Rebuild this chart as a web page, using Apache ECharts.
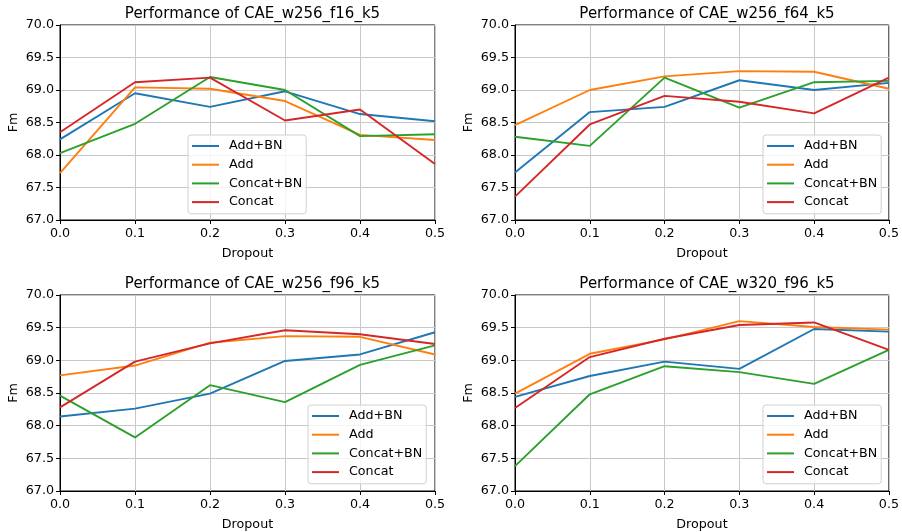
<!DOCTYPE html>
<html lang="en">
<head>
  <meta charset="UTF-8" />
  <title>Performance of CAE</title>
  <style>
    html, body { margin: 0; padding: 0; background: #fff; }
  </style>
</head>
<body>
  <div id="main" style="width: 902px; height: 532px;"></div>
  <script src="https://cdn.jsdelivr.net/npm/echarts@6/dist/echarts.min.js"></script>
  <script type="text/javascript">
    // x values (dropout rate)
    const dropout = [0, 0.1, 0.2, 0.3, 0.4, 0.5]
    const names = ['Add+BN', 'Add', 'Concat+BN', 'Concat']
    const titles = [
      'Performance of CAE_w256_f16_k5',
      'Performance of CAE_w256_f64_k5',
      'Performance of CAE_w256_f96_k5',
      'Performance of CAE_w320_f96_k5'
    ]

    // CAE_w256_f16_k5
    const f16AddBN = [68.24, 68.95, 68.74, 68.98, 68.63, 68.52]
    const f16Add = [67.72, 69.04, 69.02, 68.83, 68.31, 68.23]
    const f16ConcatBN = [68.03, 68.48, 69.20, 69.00, 68.29, 68.32]
    const f16Concat = [68.35, 69.12, 69.19, 68.53, 68.70, 67.86]

    // CAE_w256_f64_k5
    const f64AddBN = [67.73, 68.66, 68.74, 69.15, 69.00, 69.11]
    const f64Add = [68.46, 69.00, 69.21, 69.29, 69.28, 69.02]
    const f64ConcatBN = [68.28, 68.14, 69.19, 68.73, 69.12, 69.14]
    const f64Concat = [67.36, 68.47, 68.91, 68.82, 68.64, 69.19]

    // CAE_w256_f96_k5
    const f96AddBN = [68.14, 68.26, 68.49, 68.99, 69.09, 69.43]
    const f96Add = [68.77, 68.92, 69.27, 69.37, 69.36, 69.09]
    const f96ConcatBN = [68.46, 67.82, 68.62, 68.36, 68.93, 69.23]
    const f96Concat = [68.28, 68.98, 69.26, 69.46, 69.40, 69.25]

    // CAE_w320_f96_k5
    const w320AddBN = [68.44, 68.76, 68.98, 68.87, 69.48, 69.44]
    const w320Add = [68.49, 69.10, 69.32, 69.60, 69.51, 69.47]
    const w320ConcatBN = [67.38, 68.48, 68.91, 68.82, 68.64, 69.16]
    const w320Concat = [68.27, 69.05, 69.33, 69.54, 69.58, 69.16]

    const panels = [
      [f16AddBN, f16Add, f16ConcatBN, f16Concat],
      [f64AddBN, f64Add, f64ConcatBN, f64Concat],
      [f96AddBN, f96Add, f96ConcatBN, f96Concat],
      [w320AddBN, w320Add, w320ConcatBN, w320Concat]
    ]

    const colors = ['#1f77b4', '#ff7f0e', '#2ca02c', '#d62728']
    const font = 'DejaVu Sans'

    // plot areas [left, top, right, bottom] in px
    const boxes = [
      [60, 25, 435, 220],
      [515, 25, 889, 220],
      [60, 295, 435, 491],
      [515, 295, 889, 491]
    ]
    // legend box top-left corners
    const legendPos = [
      [188, 135],
      [763, 135],
      [308, 405],
      [763, 405]
    ]

    let myChart = echarts.init(document.getElementById('main'))

    let grid = [], xAxis = [], yAxis = [], title = [], legend = [], series = []

    boxes.forEach((b, i) => {
      grid.push({
        left: b[0], top: b[1], width: b[2] - b[0], height: b[3] - b[1],
        show: true, borderColor: '#000', borderWidth: 1
      })
      title.push({
        text: titles[i],
        left: (b[0] + b[2]) / 2,
        top: b[1] - 23,
        textAlign: 'center',
        textStyle: { fontFamily: font, fontSize: 15, fontWeight: 'normal', color: '#000' }
      })
      xAxis.push({
        gridIndex: i,
        type: 'value',
        min: 0, max: 0.5, interval: 0.1,
        name: 'Dropout',
        nameLocation: 'middle',
        nameGap: 27,
        nameTextStyle: { fontFamily: font, fontSize: 12.7, color: '#000' },
        axisLine: { show: true, lineStyle: { color: '#000', width: 1 } },
        axisTick: { show: true, inside: false, length: 4, lineStyle: { color: '#000' } },
        axisLabel: {
          margin: 7, fontFamily: font, fontSize: 12.7, color: '#000',
          formatter: v => v.toFixed(1)
        },
        splitLine: { show: true, lineStyle: { color: '#c8c8c8', width: 1 } }
      })
      yAxis.push({
        gridIndex: i,
        type: 'value',
        min: 67, max: 70, interval: 0.5,
        name: 'Fm',
        nameLocation: 'middle',
        nameGap: 40,
        nameTextStyle: { fontFamily: font, fontSize: 12.7, color: '#000' },
        axisLine: { show: true, lineStyle: { color: '#000', width: 1 } },
        axisTick: { show: true, inside: false, length: 4, lineStyle: { color: '#000' } },
        axisLabel: {
          margin: 6, fontFamily: font, fontSize: 12.7, color: '#000',
          formatter: v => v.toFixed(1)
        },
        splitLine: { show: true, lineStyle: { color: '#c8c8c8', width: 1 } }
      })
      legend.push({
        data: names,
        orient: 'vertical',
        left: legendPos[i][0],
        top: legendPos[i][1],
        icon: 'rect',
        itemWidth: 27,
        itemHeight: 2,
        itemGap: 4.7,
        padding: [4, 4, 4.7, 4],
        backgroundColor: 'rgba(255,255,255,0.8)',
        borderColor: '#d0d0d0',
        borderWidth: 1,
        borderRadius: 3,
        selectedMode: false,
        textStyle: {
          fontFamily: font, fontSize: 12.7, color: '#000',
          lineHeight: 14, padding: [0, 0, 0, 5]
        }
      })
      panels[i].forEach((vals, k) => {
        series.push({
          name: names[k],
          type: 'line',
          xAxisIndex: i,
          yAxisIndex: i,
          symbol: 'none',
          color: colors[k],
          lineStyle: { width: 1.9, color: colors[k] },
          data: dropout.map((d, j) => [d, vals[j]]),
          animation: false
        })
      })
    })

    myChart.setOption({
      animation: false,
      color: colors,
      title,
      grid,
      xAxis,
      yAxis,
      legend,
      series
    })
  </script>
</body>
</html>
